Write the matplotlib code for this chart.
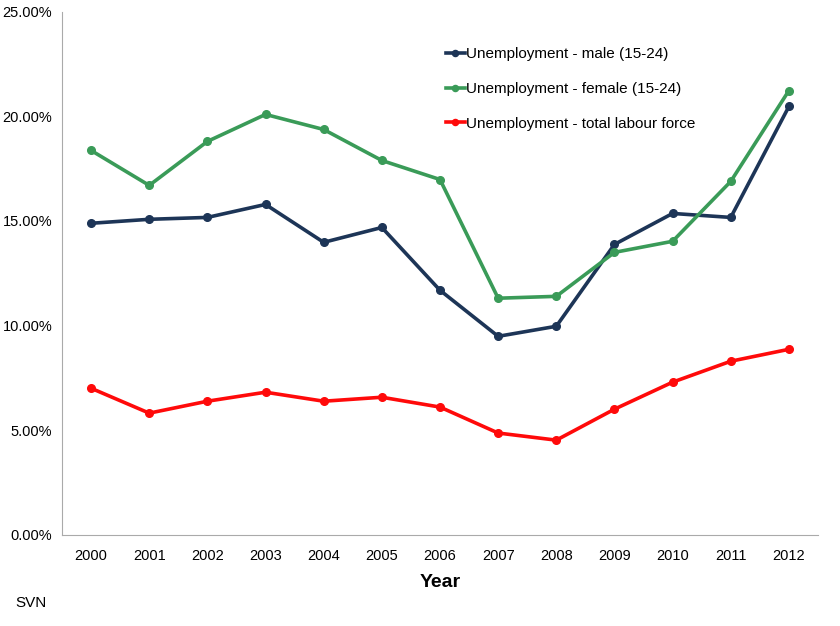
import matplotlib.pyplot as plt
from matplotlib.ticker import PercentFormatter

years = [2000, 2001, 2002, 2003, 2004, 2005, 2006, 2007, 2008, 2009, 2010, 2011, 2012]
male = [14.89, 15.08, 15.17, 15.79, 13.98, 14.69, 11.69, 9.49, 9.97, 13.88, 15.36, 15.17, 20.47]
female = [18.37, 16.70, 18.80, 20.09, 19.37, 17.89, 16.98, 11.31, 11.40, 13.50, 14.03, 16.89, 21.23]
total = [7.01, 5.82, 6.39, 6.82, 6.39, 6.58, 6.11, 4.87, 4.53, 6.01, 7.30, 8.30, 8.87]

labels = ['Unemployment - male (15-24)',
          'Unemployment - female (15-24)',
          'Unemployment - total labour force']
colors = ['#1d3557', '#3a9b58', '#ff0a0a']

plt.rcParams['font.family'] = ['Liberation Sans', 'DejaVu Sans']

fig = plt.figure(figsize=(8.4, 6.26), dpi=100)
ax = fig.add_axes([0.0738, 0.1454, 0.9, 0.836])

x = list(range(len(years)))
for vals, lab, c in zip([male, female, total], labels, colors):
    ax.plot(x, vals, color=c, lw=2.6, marker='o', ms=5.5, label=lab)

ax.set_xlim(-0.5, 12.5)
ax.set_ylim(0, 25)
ax.set_xticks(x)
ax.set_xticklabels([str(y) for y in years], fontsize=10.5)
ax.set_yticks([0, 5, 10, 15, 20, 25])
ax.yaxis.set_major_formatter(PercentFormatter(decimals=2))
ax.tick_params(axis='y', length=0, pad=7, labelsize=10.5)
ax.tick_params(axis='x', length=0, pad=10)
for s in ['top', 'right']:
    ax.spines[s].set_visible(False)
for s in ['left', 'bottom']:
    ax.spines[s].set_color('#aaaaaa')
ax.set_xlabel('Year', fontsize=14, fontweight='bold', labelpad=8)

ax.legend(loc='upper left', bbox_to_anchor=(0.49, 0.958), frameon=False,
          fontsize=11, handlelength=1.2, handletextpad=0.1, labelspacing=1.35,
          markerscale=0.8)

fig.text(0.018, 0.03, 'SVN', fontsize=11)

fig.savefig('out.png')
